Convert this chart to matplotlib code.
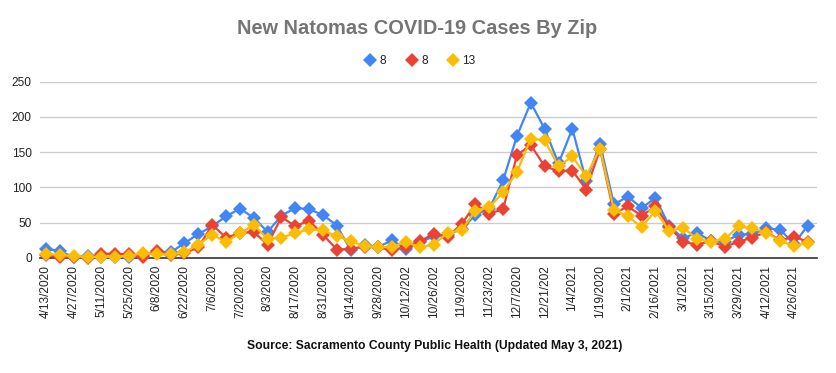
import matplotlib.pyplot as plt
from matplotlib.lines import Line2D
import numpy as np

plt.rcParams['font.family'] = ['Liberation Sans', 'DejaVu Sans']

# weekly points, 4/13/2020 .. 5/3/2021
tick_labels = ['4/13/2020', '4/27/2020', '5/11/2020', '5/25/2020', '6/8/2020',
               '6/22/2020', '7/6/2020', '7/20/2020', '8/3/2020', '8/17/2020',
               '8/31/2020', '9/14/2020', '9/28/2020', '10/12/202', '10/26/202',
               '11/9/2020', '11/23/202', '12/7/2020', '12/21/202', '1/4/2021',
               '1/19/2020', '2/1/2021', '2/16/2021', '3/1/2021', '3/15/2021',
               '3/29/2021', '4/12/2021', '4/26/2021']

series_names = ['8', '8', '13']
blue = [13, 10, 1, 3, 1, 2, 1, 3, 9, 8,
        21, 34, 45, 59, 70, 57, 37, 60, 71, 69,
        61, 46, 11, 18, 16, 25, 13, 22, 31, 33,
        41, 61, 70, 110, 173, 220, 183, 134, 183, 109,
        162, 76, 87, 71, 85, 45, 28, 36, 24, 23,
        33, 34, 42, 40, 20, 46]
red = [4, 1, 1, 0, 6, 6, 5, 2, 10, 4,
       7, 15, 47, 29, 35, 37, 19, 58, 45, 53,
       33, 12, 13, 16, 15, 11, 16, 24, 34, 30,
       48, 76, 63, 69, 146, 160, 130, 123, 124, 97,
       154, 63, 73, 60, 73, 44, 23, 19, 24, 16,
       23, 29, 37, 25, 30, 23]
yellow = [6, 4, 3, 1, 2, 2, 3, 7, 5, 5,
          8, 19, 33, 23, 35, 47, 27, 29, 35, 41,
          39, 31, 24, 17, 15, 16, 23, 15, 19, 36,
          39, 67, 72, 93, 122, 169, 167, 130, 144, 116,
          155, 68, 59, 44, 67, 38, 43, 27, 23, 27,
          45, 42, 36, 24, 17, 21]

colors = ['#4285F4', '#EA4335', '#FBBC04']

x = np.arange(len(blue))

fig = plt.figure(figsize=(8.37, 3.73), dpi=100)
ax = fig.add_axes([40 / 837, 115 / 373, 777 / 837, 176.4 / 373])

for vals, c in zip([blue, red, yellow], colors):
    ax.plot(x, vals, color=c, lw=1.6, marker='D', markersize=6.8,
            markeredgewidth=0, clip_on=False)

ax.set_xlim(-0.43, 55.66)
ax.set_ylim(0, 250)
ax.set_yticks(np.arange(0, 251, 50))
ax.set_xticks(np.arange(0, len(blue), 2))
ax.set_xticklabels(tick_labels, rotation=90, va='top', ha='center')
ax.tick_params(axis='both', length=0, labelsize=8.6, colors='#222222')
ax.tick_params(axis='x', pad=5)
ax.tick_params(axis='y', pad=6)
ax.grid(axis='y', color='#cccccc', lw=1)
ax.set_axisbelow(True)
for s in ['top', 'right', 'left']:
    ax.spines[s].set_visible(False)
ax.spines['bottom'].set_color('#333333')
ax.spines['bottom'].set_linewidth(1.2)
ax.spines['bottom'].set_zorder(1)

fig.text(417 / 837, 1 - 28 / 373, 'New Natomas COVID-19 Cases By Zip',
         ha='center', va='center', fontsize=14.4, fontweight='bold', color='#757575')

handles = [Line2D([], [], color=c, marker='D', linestyle='none', markersize=7.5,
                  markeredgewidth=0) for c in colors]
fig.legend(handles, series_names, loc='center', bbox_to_anchor=(420 / 837, 1 - 61 / 373),
           ncol=3, frameon=False, fontsize=8.6, handlelength=1.0, handletextpad=0.3,
           columnspacing=1.6, labelcolor='#222222')

fig.text(435 / 837, 1 - 346 / 373,
         'Source: Sacramento County Public Health (Updated May 3, 2021)',
         ha='center', va='center', fontsize=8.7, fontweight='bold', color='#111111')

fig.savefig('out.png', dpi=100)
